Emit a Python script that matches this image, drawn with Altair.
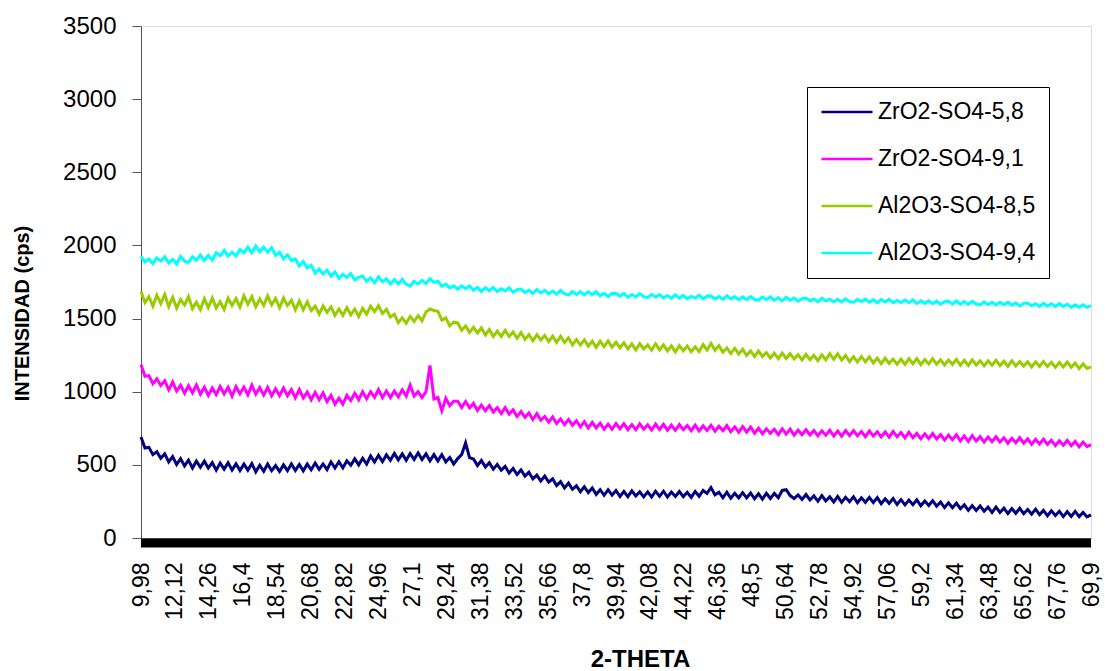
import altair as alt
import numpy as np
import pandas as pd

# 2-theta grid (degrees)
two_theta = [round(float(v), 3) for v in np.linspace(9.98, 69.9, 241)]

tick_values = [9.98, 12.12, 14.26, 16.4, 18.54, 20.68, 22.82, 24.96, 27.1, 29.24,
               31.38, 33.52, 35.66, 37.8, 39.94, 42.08, 44.22, 46.36, 48.5, 50.64,
               52.78, 54.92, 57.06, 59.2, 61.34, 63.48, 65.62, 67.76, 69.9]
y_ticks = [0, 500, 1000, 1500, 2000, 2500, 3000, 3500]

series_names = ["ZrO2-SO4-5,8", "ZrO2-SO4-9,1", "Al2O3-SO4-8,5", "Al2O3-SO4-9,4"]
series_colors = ["#000080", "#FF00FF", "#99CC00", "#00FFFF"]

zro2_58 = [
    690, 615, 620, 570, 590, 545, 575, 520,
    557, 502, 542, 493, 532, 478, 525, 483,
    525, 478, 516, 464, 512, 471, 515, 464,
    507, 461, 505, 464, 508, 452, 497, 456,
    505, 460, 495, 455, 500, 460, 506, 462,
    503, 459, 505, 466, 512, 469, 506, 468,
    520, 478, 521, 479, 528, 497, 541, 500,
    545, 505, 560, 520, 565, 522, 569, 531,
    578, 534, 575, 531, 577, 537, 581, 536,
    575, 528, 570, 527, 570, 520, 550, 505,
    543, 570, 650, 550, 540, 495, 530, 485,
    515, 470, 503, 463, 490, 445, 475, 434,
    465, 423, 450, 404, 430, 390, 423, 382,
    405, 358, 385, 342, 375, 333, 357, 316,
    350, 311, 342, 298, 330, 292, 330, 293,
    325, 284, 318, 283, 322, 287, 316, 281,
    315, 280, 320, 285, 320, 280, 314, 284,
    318, 283, 313, 278, 318, 285, 325, 305,
    345, 295, 313, 275, 313, 272, 306, 275,
    310, 274, 308, 268, 302, 266, 306, 270,
    305, 275, 325, 330, 290, 270, 295, 264,
    297, 260, 288, 251, 290, 253, 282, 246,
    285, 244, 278, 248, 282, 241, 275, 244,
    278, 242, 276, 235, 268, 237, 270, 229,
    262, 226, 259, 228, 261, 220, 253, 222,
    255, 218, 245, 208, 240, 207, 238, 200,
    227, 189, 221, 188, 220, 183, 211, 174,
    212, 175, 204, 167, 201, 169, 203, 166,
    195, 163, 197, 160, 189, 152, 186, 154,
    183, 146, 180, 148, 182, 146, 175, 144,
    158,
]

zro2_91 = [
    1185, 1105, 1110, 1055, 1088, 1043, 1075, 1013,
    1066, 1005, 1045, 990, 1041, 993, 1046, 984,
    1031, 975, 1025, 980, 1035, 985, 1030, 970,
    1035, 986, 1032, 978, 1045, 984, 1028, 977,
    1030, 973, 1020, 973, 1025, 973, 1015, 958,
    1015, 957, 998, 945, 995, 946, 992, 932,
    975, 915, 955, 915, 975, 940, 990, 945,
    1000, 952, 1000, 962, 1015, 960, 1005, 960,
    1005, 965, 1013, 970, 1045, 970, 1000, 960,
    1000, 1180, 950, 960, 870, 955, 905, 935,
    935, 892, 933, 890, 920, 872, 909, 870,
    905, 861, 891, 851, 891, 846, 876, 831,
    865, 825, 855, 810, 850, 805, 831, 792,
    828, 783, 814, 774, 810, 771, 802, 759,
    795, 752, 790, 752, 785, 744, 778, 743,
    782, 747, 781, 741, 775, 740, 780, 744,
    773, 738, 778, 742, 777, 737, 771, 736,
    775, 740, 769, 734, 772, 732, 766, 736,
    770, 730, 764, 734, 768, 727, 760, 724,
    762, 725, 758, 717, 750, 713, 746, 715,
    743, 707, 746, 710, 744, 703, 737, 706,
    740, 705, 734, 699, 733, 703, 737, 697,
    731, 696, 735, 700, 734, 699, 728, 693,
    732, 697, 726, 691, 725, 689, 728, 692,
    721, 684, 723, 686, 715, 678, 712, 680,
    714, 677, 706, 669, 703, 672, 705, 664,
    698, 661, 700, 664, 693, 656, 690, 659,
    692, 656, 685, 648, 682, 651, 685, 648,
    677, 640, 674, 643, 676, 640, 668, 632,
    665, 634, 667, 631, 660, 623, 656, 625,
    638,
]

al2o3_85 = [
    1685, 1610, 1650, 1585, 1660, 1602, 1665, 1582,
    1645, 1572, 1630, 1592, 1650, 1568, 1612, 1561,
    1635, 1575, 1641, 1573, 1615, 1562, 1639, 1590,
    1637, 1579, 1656, 1598, 1650, 1580, 1635, 1590,
    1655, 1594, 1637, 1574, 1640, 1590, 1625, 1560,
    1620, 1560, 1615, 1555, 1585, 1531, 1587, 1543,
    1580, 1522, 1565, 1522, 1575, 1525, 1565, 1515,
    1570, 1530, 1585, 1547, 1588, 1535, 1563, 1510,
    1530, 1473, 1505, 1468, 1515, 1480, 1520, 1485,
    1545, 1565, 1555, 1550, 1490, 1505, 1450, 1475,
    1470, 1420, 1450, 1405, 1440, 1401, 1437, 1388,
    1425, 1377, 1415, 1377, 1420, 1377, 1408, 1365,
    1405, 1358, 1391, 1348, 1390, 1353, 1385, 1343,
    1380, 1337, 1379, 1336, 1368, 1320, 1357, 1319,
    1355, 1312, 1345, 1303, 1345, 1308, 1347, 1305,
    1338, 1301, 1335, 1293, 1327, 1285, 1328, 1292,
    1320, 1284, 1328, 1286, 1320, 1279, 1313, 1272,
    1315, 1279, 1313, 1273, 1307, 1274, 1322, 1285,
    1330, 1283, 1315, 1270, 1300, 1261, 1297, 1258,
    1290, 1247, 1279, 1241, 1278, 1241, 1268, 1230,
    1263, 1226, 1264, 1227, 1260, 1224, 1253, 1217,
    1255, 1219, 1248, 1212, 1252, 1218, 1260, 1221,
    1260, 1217, 1248, 1206, 1240, 1203, 1241, 1204,
    1238, 1196, 1229, 1192, 1230, 1194, 1223, 1187,
    1222, 1187, 1226, 1191, 1226, 1185, 1220, 1190,
    1225, 1189, 1218, 1183, 1217, 1187, 1221, 1181,
    1215, 1179, 1218, 1183, 1212, 1177, 1211, 1181,
    1215, 1179, 1209, 1173, 1212, 1177, 1206, 1176,
    1205, 1169, 1204, 1173, 1207, 1172, 1201, 1166,
    1200, 1169, 1203, 1167, 1195, 1158, 1191, 1159,
    1170,
]

al2o3_94 = [
    1925, 1888, 1907, 1876, 1915, 1894, 1923, 1879,
    1905, 1873, 1925, 1892, 1885, 1922, 1898, 1934,
    1897, 1932, 1900, 1950, 1930, 1966, 1928, 1955,
    1928, 1972, 1950, 1989, 1950, 1996, 1957, 1988,
    1953, 1985, 1932, 1954, 1908, 1936, 1897, 1908,
    1860, 1890, 1847, 1864, 1810, 1839, 1805, 1832,
    1790, 1819, 1775, 1803, 1782, 1808, 1764, 1784,
    1790, 1754, 1778, 1745, 1785, 1752, 1772, 1737,
    1767, 1737, 1768, 1734, 1722, 1755, 1737, 1761,
    1740, 1773, 1747, 1755, 1720, 1736, 1710, 1724,
    1701, 1724, 1704, 1723, 1693, 1712, 1686, 1711,
    1690, 1712, 1685, 1704, 1689, 1710, 1679, 1697,
    1702, 1679, 1694, 1672, 1699, 1676, 1693, 1670,
    1688, 1667, 1692, 1670, 1661, 1684, 1665, 1684,
    1662, 1683, 1664, 1683, 1656, 1672, 1651, 1673,
    1672, 1653, 1672, 1645, 1664, 1648, 1671, 1650,
    1643, 1664, 1647, 1664, 1641, 1658, 1638, 1663,
    1640, 1659, 1635, 1652, 1640, 1660, 1635, 1653,
    1655, 1634, 1650, 1631, 1655, 1636, 1649, 1629,
    1648, 1629, 1650, 1632, 1625, 1647, 1630, 1648,
    1625, 1642, 1621, 1645, 1626, 1641, 1619, 1636,
    1640, 1621, 1634, 1615, 1639, 1620, 1633, 1615,
    1631, 1614, 1635, 1615, 1612, 1630, 1616, 1633,
    1612, 1629, 1608, 1630, 1613, 1631, 1608, 1624,
    1610, 1627, 1610, 1627, 1602, 1621, 1604, 1622,
    1602, 1619, 1598, 1615, 1619, 1600, 1620, 1598,
    1616, 1597, 1618, 1599, 1593, 1614, 1596, 1611,
    1593, 1612, 1595, 1612, 1592, 1607, 1586, 1604,
    1606, 1587, 1602, 1583, 1604, 1585, 1601, 1582,
    1602, 1583, 1598, 1577, 1594, 1577, 1594, 1577,
    1588,
]

all_series = [zro2_58, zro2_91, al2o3_85, al2o3_94]
rows = []
for name, vals in zip(series_names, all_series):
    for t, v in zip(two_theta, vals):
        rows.append({"theta": t, "cps": v, "series": name})
df = pd.DataFrame(rows)
band_df = pd.DataFrame({"x0": [two_theta[0]], "x1": [two_theta[-1]]})

W, H = 950, 512
FONT = "Liberation Sans"

x_scale = alt.Scale(domain=[two_theta[0], two_theta[-1]], nice=False, zero=False)

x_axis = alt.Axis(values=tick_values, labelAngle=-90, labelFontSize=23,
                  labelFont=FONT, labelColor="black",
                  labelExpr="replace(toString(datum.value), '.', ',')",
                  labelOverlap=False, labelFlush=False, labelPadding=24,
                  labelBound=False,
                  ticks=False, domainColor="#888888", grid=False,
                  title="2-THETA", titleFont=FONT, titleFontSize=24,
                  titleFontWeight="bold", titleColor="black",
                  titleX=499, titleY=128, titleBaseline="alphabetic",
                  titleAlign="center")

lines = alt.Chart(df).mark_line(strokeWidth=3).encode(
    x=alt.X("theta:Q", scale=x_scale, axis=x_axis),
    y=alt.Y("cps:Q", scale=alt.Scale(domain=[0, 3500], nice=False),
            axis=alt.Axis(values=y_ticks, format="d", labelFontSize=24,
                          labelFont=FONT, labelColor="black", tickSize=9,
                          tickColor="#555555", domainColor="#555555",
                          labelPadding=16, grid=False,
                          title="INTENSIDAD (cps)", titleFont=FONT,
                          titleFontSize=20, titleFontWeight="bold",
                          titleColor="black", titleAngle=270, titleX=-119,
                          titleY=287, titleAlign="center",
                          titleBaseline="middle")),
    color=alt.Color("series:N", sort=series_names,
                    scale=alt.Scale(domain=series_names, range=series_colors),
                    legend=alt.Legend(title=None, orient="none", legendX=666,
                                      legendY=61, strokeColor="black",
                                      fillColor="white", padding=13,
                                      symbolType="stroke", symbolSize=2601,
                                      symbolStrokeWidth=2.5, labelFontSize=23,
                                      labelFont=FONT, labelColor="black",
                                      clipHeight=24, rowPadding=23,
                                      labelOffset=4, labelLimit=400)),
    detail="series:N",
)

band = alt.Chart(band_df).mark_rect(color="black").encode(
    x=alt.X("x0:Q", scale=x_scale, axis=x_axis),
    x2="x1:Q",
    y=alt.value(H + 0.5),
    y2=alt.value(H + 9.5),
)

chart = alt.layer(lines, band).properties(
    width=W, height=H,
    autosize=alt.AutoSizeParams(type="none"),
    padding={"left": 141, "top": 26, "right": 14, "bottom": 133},
).configure_view(stroke=None).configure(background="white").configure_axisX(
    labelOverlap=False
)

chart.save("out.html", embed_options={"renderer": "svg", "actions": False})
